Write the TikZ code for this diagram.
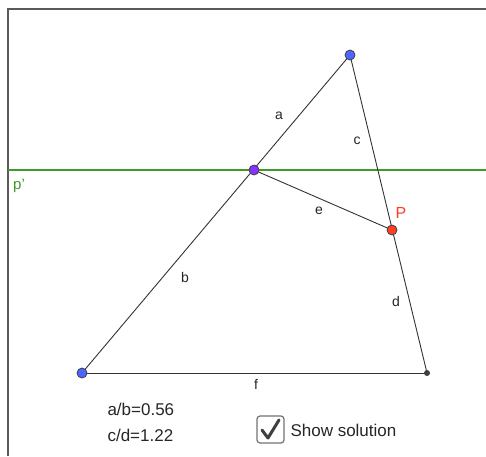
\documentclass[tikz,border=0pt]{standalone}
\usepackage{fontspec}
\setmainfont{Liberation Sans}
\definecolor{ptblue}{HTML}{4D66FF}
\definecolor{ptpurple}{HTML}{8533FF}
\definecolor{ptred}{HTML}{FF3D26}
\definecolor{gline}{HTML}{3F9A2A}
\definecolor{frame}{HTML}{5A5A5A}
\definecolor{seg}{HTML}{333333}
\tikzset{
  pt/.style={circle, draw=black!75, line width=0.8pt, inner sep=0pt, minimum size=10pt},
  smallpt/.style={circle, fill=black!75, inner sep=0pt, minimum size=6pt},
  segline/.style={draw=seg, line width=0.9pt},
  lbl/.style={font=\fontsize{14}{14}\selectfont, text=black!85},
  txt/.style={font=\fontsize{17}{17}\selectfont, text=black!85, anchor=west}
}
\begin{document}
\begin{tikzpicture}[x=1pt,y=-1pt]
\useasboundingbox (0,0) rectangle (486,456);
\fill[white] (0,0) rectangle (486,456);
% frame
\draw[frame, line width=1.5pt] (8,456) -- (8,9) -- (486,9);
% green line
\coordinate (gl) at (8,170);
\coordinate (gr) at (486,170);
\draw[gline, line width=1.3pt] (gl) -- (gr);
\node[text=gline, font=\fontsize{15}{15}\selectfont] (pp) at (19,186) {p'};
% points
\coordinate (A) at (350,55);
\coordinate (B) at (82,373);
\coordinate (C) at (427,373);
\coordinate (M) at (254,170);
\coordinate (P) at (392,230);
\draw[segline] (A) -- (B);
\draw[segline] (A) -- (C);
\draw[segline] (B) -- (C);
\draw[segline] (M) -- (P);
\node[pt, fill=ptblue] (nA) at (A) {};
\node[pt, fill=ptblue] (nB) at (B) {};
\node[smallpt] (nC) at (C) {};
\node[pt, fill=ptpurple] (nM) at (M) {};
\node[pt, fill=ptred, minimum size=10pt] (nP) at (P) {};
% labels
\node[lbl] (la) at (279,116) {a};
\node[lbl] (lb) at (185,277) {b};
\node[lbl] (lc) at (357,141) {c};
\node[lbl] (ld) at (396,301) {d};
\node[lbl] (le) at (319,211) {e};
\node[lbl] (lf) at (256,384) {f};
\node[text=ptred, font=\fontsize{16}{16}\selectfont] (lP) at (401,213) {P};
% ratios
\node[txt] (r1) at (104,409) {a/b=0.56};
\node[txt] (r2) at (104,435) {c/d=1.22};
% checkbox
\draw[black!55, line width=1.2pt, rounded corners=3pt, fill=white] (257,416) rectangle (284,443);
\draw[black!75, line width=3pt, line cap=round, line join=round] (262,430) -- (268,438) -- (279,420);
\node[txt] (ss) at (287,430) {Show solution};
\end{tikzpicture}
\end{document}
